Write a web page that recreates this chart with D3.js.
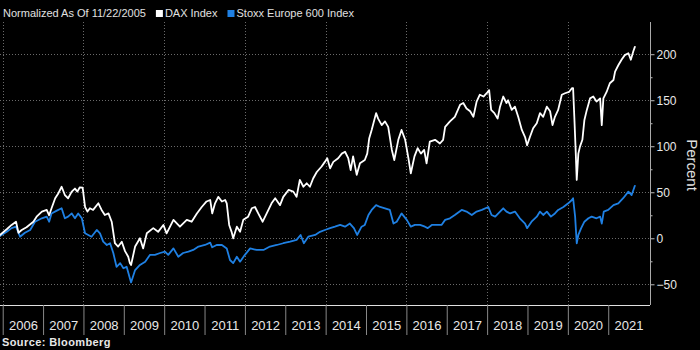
<!DOCTYPE html>
<html><head><meta charset="utf-8">
<script src="https://cdn.jsdelivr.net/npm/d3@7"></script>
<style>html,body{margin:0;padding:0;background:#000;} svg{display:block;font-family:"Liberation Sans",Arial,sans-serif}</style>
</head><body>
<svg id="chart" width="700" height="350"></svg>
<script>
// ---- data (decimal years, percent change since 11/22/2005) ----
const daxYears = [2005.89,2005.93,2006.10,2006.22,2006.33,2006.39,2006.47,2006.59,2006.76,2006.84,2006.97,2007.09,2007.15,2007.21,2007.30,2007.38,2007.46,2007.54,2007.62,2007.71,2007.79,2007.85,2007.91,2007.98,2008.04,2008.10,2008.16,2008.24,2008.37,2008.45,2008.53,2008.62,2008.70,2008.78,2008.86,2008.95,2009.03,2009.11,2009.15,2009.18,2009.28,2009.40,2009.48,2009.57,2009.73,2009.85,2009.98,2010.06,2010.23,2010.39,2010.56,2010.68,2010.81,2010.93,2011.05,2011.14,2011.19,2011.26,2011.34,2011.43,2011.51,2011.55,2011.61,2011.67,2011.71,2011.80,2011.88,2011.96,2012.08,2012.17,2012.25,2012.33,2012.44,2012.54,2012.66,2012.75,2012.87,2012.95,2013.08,2013.20,2013.28,2013.36,2013.45,2013.53,2013.61,2013.69,2013.78,2013.90,2013.98,2014.04,2014.11,2014.19,2014.31,2014.40,2014.48,2014.56,2014.62,2014.68,2014.77,2014.85,2014.97,2015.03,2015.08,2015.14,2015.25,2015.30,2015.39,2015.47,2015.55,2015.64,2015.70,2015.80,2015.88,2015.97,2016.05,2016.11,2016.20,2016.28,2016.36,2016.44,2016.50,2016.58,2016.71,2016.83,2016.91,2016.96,2017.08,2017.20,2017.33,2017.41,2017.49,2017.58,2017.66,2017.74,2017.82,2017.91,2017.99,2018.05,2018.10,2018.18,2018.26,2018.32,2018.40,2018.48,2018.52,2018.61,2018.69,2018.77,2018.86,2018.94,2018.99,2019.06,2019.14,2019.23,2019.31,2019.39,2019.48,2019.56,2019.62,2019.68,2019.76,2019.85,2019.93,2020.03,2020.10,2020.13,2020.16,2020.19,2020.22,2020.26,2020.30,2020.36,2020.41,2020.47,2020.55,2020.63,2020.71,2020.80,2020.84,2020.88,2020.96,2021.04,2021.13,2021.17,2021.25,2021.33,2021.41,2021.50,2021.56,2021.62,2021.66];
const daxValues = [0,3.6,9.8,14.5,18,6,9,12,18,23.5,29,30.8,25,32.6,43.5,49,56,47,43.5,50.7,54,50.7,55.4,55,34,29,32.6,30.8,38,30.8,25.3,27,18,-5.4,-9,-3.7,-14,-20,-27,-29,-9,0,-11,5.4,11,7,14.5,5.4,20,12.6,20,18,27,34,40,41.6,27,38,45,40,41.6,38,14.5,7,0,12.6,7,20,23.5,32.6,34,27,18,27,38,43.5,36,45,52.5,50.7,45,63.4,56,59.8,56,65,72,78,83,87,76,83,87,92,94,87,74,89,69,81.5,85,92,108.7,117.7,136,130,123,127,121,96,85,107,117.7,107,87,70.6,89,98,92,96,81.5,105,107,103,107,121,127,132,145,147,141,138,132,148.5,156,154,157.6,161,139.5,136,130,143,154,147,150,139.5,143,132,117.7,110,101,110,119.5,125,136,132,143,138,123,132,139.5,156,157.6,159,163,163,132,99.6,63.4,92,99.6,107,128.6,139.5,152,154,148.5,152,123,152,159,168.5,172,181,188,194,199,201,194,203,208];
const stoxxYears = [2005.89,2005.93,2006.10,2006.22,2006.33,2006.43,2006.55,2006.68,2006.80,2006.97,2007.09,2007.15,2007.21,2007.34,2007.46,2007.54,2007.62,2007.71,2007.79,2007.87,2007.96,2008.04,2008.12,2008.20,2008.33,2008.41,2008.49,2008.58,2008.66,2008.74,2008.82,2008.91,2008.99,2009.07,2009.15,2009.18,2009.28,2009.40,2009.53,2009.65,2009.77,2009.90,2010.02,2010.10,2010.23,2010.35,2010.47,2010.60,2010.72,2010.85,2011.01,2011.14,2011.19,2011.30,2011.43,2011.55,2011.63,2011.71,2011.80,2011.88,2012.00,2012.13,2012.29,2012.46,2012.62,2012.79,2012.95,2013.12,2013.28,2013.38,2013.46,2013.57,2013.74,2013.86,2013.98,2014.11,2014.23,2014.36,2014.48,2014.60,2014.70,2014.78,2014.89,2014.97,2015.06,2015.14,2015.25,2015.35,2015.47,2015.59,2015.68,2015.76,2015.88,2016.01,2016.11,2016.21,2016.34,2016.46,2016.53,2016.63,2016.75,2016.87,2016.96,2017.08,2017.20,2017.37,2017.49,2017.62,2017.74,2017.87,2018.03,2018.11,2018.20,2018.32,2018.40,2018.48,2018.57,2018.69,2018.81,2018.94,2018.99,2019.10,2019.23,2019.31,2019.39,2019.48,2019.58,2019.68,2019.76,2019.89,2020.01,2020.10,2020.13,2020.18,2020.22,2020.26,2020.33,2020.41,2020.51,2020.59,2020.71,2020.80,2020.84,2020.89,2021.00,2021.13,2021.25,2021.37,2021.50,2021.58,2021.66];
const stoxxValues = [0,2.5,7,11,12.6,1.7,6,9,18,21.7,23.5,18,27,30,32.6,21.7,23.5,27,21.7,27,21.7,5.4,3.6,1.7,9,5.4,-3.7,-7.3,-5.4,-16,-31,-27,-32.6,-31,-43.5,-48,-34.5,-29,-25.4,-18,-18,-16,-14.5,-18,-11,-20,-16,-14.5,-12.7,-9,-7.3,-4.8,-9.8,-7.3,-7.3,-11,-23.6,-27,-20,-25.4,-18,-11,-12.7,-12.7,-9,-7.3,-5.4,-3.7,-1.8,3.6,-5.4,1.7,3.6,7,9,11,12.6,14.5,12.6,16,11,3.6,12.6,14.5,25.3,30.8,36,34,32.6,30.8,16,18,27,20,12.6,14.5,14.5,12.6,11,14.5,14.5,14.5,20,21.7,25.3,30.8,29,25.3,29,30.8,34,25.3,23.5,29,32.6,29,27,29,21.7,16,11,18,23.5,29,25.3,29,23.5,27,30.8,34,38,41.6,43.5,23.5,-5.4,3.6,11,18,21.7,23.5,21.7,23.5,16,29,30.8,36,38,43.5,50.7,47,57];
const yearLabels = ["2006","2007","2008","2009","2010","2011","2012","2013","2014","2015","2016","2017","2018","2019","2020","2021"];
const gridYears = [2006,2008,2010,2012,2014,2016,2018,2020];
const yTicks = [-50,0,50,100,150,200];
const yMinorTicks = [-25,25,75,125,175];
const seriesNames = ["DAX Index","Stoxx Europe 600 Index"];
const seriesColors = ["#ffffff","#1f80e3"];
const noteText = "Normalized As Of 11/22/2005";
const sourceText = "Source: Bloomberg";
const axisTitle = "Percent";

const svg = d3.select("#chart");
svg.append("rect").attr("width",700).attr("height",350).attr("fill","#000");
const L=0, R=650, T=22, B=305;
const x = d3.scaleLinear().domain([2005.933, 2022.035]).range([L, R]);
const y = d3.scaleLinear().domain([-72.5, 235]).range([B, T]);

// gridlines
svg.append("g").selectAll("line").data(yTicks).join("line")
  .attr("x1",L).attr("x2",R).attr("y1",d=>Math.round(y(d))+0.5).attr("y2",d=>Math.round(y(d))+0.5)
  .attr("stroke","#6a6a6a").attr("stroke-dasharray","1,2");
svg.append("g").selectAll("line").data(gridYears).join("line")
  .attr("x1",d=>Math.round(x(d))+0.5).attr("x2",d=>Math.round(x(d))+0.5).attr("y1",T).attr("y2",B)
  .attr("stroke","#6a6a6a").attr("stroke-dasharray","1,2");

// lines
svg.append("clipPath").attr("id","clip").append("rect").attr("x",L).attr("y",T-10).attr("width",R-L).attr("height",B-T+10);
const line = d3.line().x(d=>x(d[0])).y(d=>y(d[1]));
const series = [d3.zip(daxYears, daxValues), d3.zip(stoxxYears, stoxxValues)];
[1,0].forEach(i=>{
  svg.append("path").datum(series[i]).attr("clip-path","url(#clip)")
    .attr("d",line).attr("fill","none").attr("stroke",seriesColors[i])
    .attr("stroke-width",1.8).attr("stroke-linejoin","round").attr("stroke-linecap","round");
});

// right axis
const yAxis = svg.append("g").attr("transform",`translate(${R+0.5},0)`)
  .call(d3.axisRight(y).tickValues(yTicks).tickSize(4).tickPadding(2).tickFormat(d3.format("d")));
yAxis.select(".domain").remove();
yAxis.selectAll(".tick line").attr("stroke","#bbb");
yAxis.selectAll(".tick text").attr("fill","#e8e8e8").style("font-size","12px").style("font-family","'Liberation Sans',Arial,sans-serif");
const yMinor = svg.append("g").attr("transform",`translate(${R+0.5},0)`)
  .call(d3.axisRight(y).tickValues(yMinorTicks).tickSize(2).tickFormat(""));
yMinor.select(".domain").remove();
yMinor.selectAll(".tick line").attr("stroke","#bbb");
svg.append("line").attr("x1",R+0.5).attr("x2",R+0.5).attr("y1",T).attr("y2",B).attr("stroke","#aaa");

// bottom axis
svg.append("line").attr("x1",L).attr("x2",R).attr("y1",B+0.5).attr("y2",B+0.5).attr("stroke","#e0e0e0").attr("stroke-width",1.2);
const yearStarts = yearLabels.map(d=>+d);
const xSep = svg.append("g").attr("transform",`translate(0,${B})`)
  .call(d3.axisBottom(x).tickValues(yearStarts).tickSize(30).tickFormat(""));
xSep.select(".domain").remove();
xSep.selectAll(".tick line").attr("stroke","#888");
const xLab = svg.append("g").attr("transform",`translate(0,${B})`)
  .call(d3.axisBottom(x).tickValues(yearStarts.map(d=>d+0.5)).tickSize(0).tickPadding(16).tickFormat((d,i)=>yearLabels[i]));
xLab.select(".domain").remove();
xLab.selectAll(".tick text").attr("fill","#e8e8e8").style("font-size","13px").style("font-family","'Liberation Sans',Arial,sans-serif");

// axis title
svg.append("text").attr("transform","translate(687,165) rotate(90)").attr("text-anchor","middle")
  .attr("fill","#e0e0e0").style("font-size","15px").text(axisTitle);

// legend
const lg = svg.append("g");
let cx = 3;
const t0 = lg.append("text").attr("x",cx).attr("y",17).attr("fill","#e0e0e0").style("font-size","11px").text(noteText);
cx += t0.node().getComputedTextLength() + 10;
seriesNames.forEach((n,i)=>{
  lg.append("rect").attr("x",cx).attr("y",10).attr("width",7).attr("height",7).attr("fill",seriesColors[i]);
  cx += 9;
  const t = lg.append("text").attr("x",cx).attr("y",17).attr("fill","#e0e0e0").style("font-size","11px").text(n);
  cx += t.node().getComputedTextLength() + 10;
});

// source
svg.append("text").attr("x",2).attr("y",346).attr("fill","#e8e8e8").style("font-size","11px").style("font-weight","bold").style("letter-spacing","0.4px").text(sourceText);
</script>
</body></html>
